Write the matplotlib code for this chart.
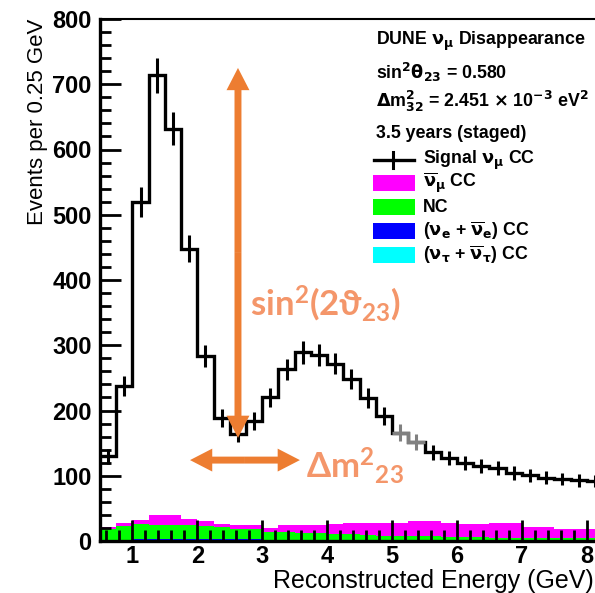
import numpy as np
import matplotlib
matplotlib.use("Agg")
import matplotlib.pyplot as plt
from matplotlib.ticker import MultipleLocator
from matplotlib.patches import Rectangle
from matplotlib.lines import Line2D

# 0.25 GeV bins starting at 0.5 GeV
bin_lo = 0.5
bin_width = 0.25
signal = [130, 237, 520, 714, 632, 448, 283, 189, 164, 184, 220, 263, 289, 285, 272,
          248, 219, 191, 166, 151, 136, 127, 119, 115, 112, 104, 101, 97, 95, 93, 92]
nc = [17, 21, 23, 22, 22, 22, 20, 18, 16, 15, 12, 12, 10, 10, 9, 8, 7, 6, 6, 5, 5,
      4, 4, 4, 4, 4, 4, 4, 3, 3, 3]
numubar = [2, 4, 6, 15, 15, 9, 7, 5, 6, 7, 6, 11, 13, 13, 15, 17, 19, 20, 19, 23, 23,
           22, 20, 20, 22, 22, 17, 17, 15, 15, 15]
nue = [2, 2, 2, 2, 2, 2, 2, 2, 2, 2, 1, 1, 1, 1, 1, 1, 1, 1, 1, 1, 1, 1, 1, 1, 1, 1,
       1, 1, 1, 1, 1]
nutau = [0, 0, 1, 1, 1, 1, 1, 1, 1, 1, 1, 1, 1, 1, 1, 1, 1, 1, 1, 1, 1, 1, 1, 1, 0, 0,
         0, 0, 0, 0, 0]
gray_bins = [18, 19]  # piece of the curve drawn in grey

plt.rcParams['font.family'] = ['Liberation Sans', 'DejaVu Sans']
plt.rcParams['font.weight'] = 'bold'
plt.rcParams['mathtext.fontset'] = 'custom'
plt.rcParams['mathtext.rm'] = 'Lato'
plt.rcParams['mathtext.bf'] = 'Lato:bold'
plt.rcParams['mathtext.it'] = 'Lato:italic'
plt.rcParams['mathtext.fallback'] = 'stixsans'

W, H = 595, 593
def fx(px):
    return px / W
def fy(py):
    return 1 - py / H

fig = plt.figure(figsize=(W / 100, H / 100), dpi=100)
ax = fig.add_axes([fx(100), fy(541), 1 - fx(100), fy(19) - fy(541)])

n = len(signal)
edges = bin_lo + bin_width * np.arange(n + 1)
centers = 0.5 * (edges[1:] + edges[:-1])
sig = np.array(signal, dtype=float)

# stacked backgrounds
bottom = np.zeros(n)
for arr, col in [(nutau, '#00ffff'), (nue, '#0000ff'), (nc, '#00ff00'), (numubar, '#ff00ff')]:
    top = bottom + np.array(arr)
    ax.stairs(top, edges, baseline=bottom, fill=True, color=col, lw=0, zorder=1)
    bottom = top

# signal histogram
ax.stairs(sig, edges, baseline=None, color='k', lw=2.4, zorder=3)
err = np.sqrt(sig)
black = [i for i in range(n) if i not in gray_bins]
ax.errorbar(centers[black], sig[black], yerr=err[black], fmt='none', ecolor='k',
            elinewidth=2.2, zorder=3)
g0, g1 = gray_bins[0], gray_bins[-1] + 1
ax.stairs(sig[g0:g1], edges[g0:g1 + 1], baseline=None, color='#808080', lw=2.4, zorder=4)
ax.errorbar(centers[g0:g1], sig[g0:g1], yerr=err[g0:g1], fmt='none', ecolor='#808080',
            elinewidth=2.2, zorder=4)

ax.set_xlim(0.5, 0.5 + 495 / 64.9)
ax.set_ylim(0, 800)
ax.xaxis.set_major_locator(MultipleLocator(1))
ax.xaxis.set_minor_locator(MultipleLocator(0.2))
ax.yaxis.set_major_locator(MultipleLocator(100))
ax.yaxis.set_minor_locator(MultipleLocator(20))
ax.tick_params(which='major', direction='in', length=15, width=2, labelsize=17,
               top=False, right=False, pad=3)
ax.tick_params(which='minor', direction='in', length=8, width=2, top=False, right=False)
ax.tick_params(axis='y', pad=6)
ax.spines['right'].set_visible(False)
ax.spines['left'].set_linewidth(2.4)
ax.spines['bottom'].set_linewidth(2.4)
ax.spines['top'].set_linewidth(1.5)

fig.text(fx(38), fy(19), 'Events per 0.25 GeV', rotation=90, ha='center', va='top',
         fontsize=16, fontweight='normal')
fig.text(fx(273), fy(581), 'Reconstructed Energy (GeV)', ha='left', va='center',
         fontsize=18, fontweight='normal')

# legend block
lx = fx(376)
leg_kw = dict(fontsize=12.8, fontweight='bold', va='center', ha='left',
              math_fontfamily='dejavusans')
fig.text(lx, fy(41), r'DUNE $\mathrm{\nu_{\mu}}$ Disappearance', **leg_kw)
fig.text(lx, fy(72), r'sin$^{2}\mathrm{\theta}_{23}$ = 0.580', **leg_kw)
fig.text(lx, fy(101), r'$\Delta$m$^{2}_{32}$ = 2.451 $\times$ 10$^{-3}$ eV$^{2}$', **leg_kw)
fig.text(lx, fy(133), '3.5 years (staged)', **leg_kw)

tx = fx(423)
fig.add_artist(Line2D([fx(374), fx(414)], [fy(160), fy(160)], color='k', lw=2.4,
                      transform=fig.transFigure))
fig.add_artist(Line2D([fx(393), fx(393)], [fy(152), fy(168)], color='k', lw=2.2,
                      transform=fig.transFigure))
fig.text(tx, fy(160), r'Signal $\mathrm{\nu_{\mu}}$ CC', **leg_kw)
swatches = [('#ff00ff', 183, r'$\mathrm{\overline{\nu}_{\mu}}$ CC'),
            ('#00ff00', 207, 'NC'),
            ('#0000ff', 231, r'($\mathrm{\nu_{e}}$ + $\mathrm{\overline{\nu}_{e}}$) CC'),
            ('#00ffff', 255, r'($\mathrm{\nu_{\tau}}$ + $\mathrm{\overline{\nu}_{\tau}}$) CC')]
for col, yc, lab in swatches:
    fig.add_artist(Rectangle((fx(373), fy(yc + 8)), fx(42), fy(0) - fy(16), color=col,
                             lw=0, transform=fig.transFigure))
    fig.text(tx, fy(yc), lab, **leg_kw)

# orange annotations
arrow_col = '#ED7D31'
text_col = '#F4966A'
ap = dict(width=5, headwidth=16.5, headlength=16, color=arrow_col, lw=0, shrink=0)
xv, ya, yb = 2.626, 725, 158
ym = 0.5 * (ya + yb)
ax.annotate('', xy=(xv, ya), xytext=(xv, ym), arrowprops=ap, zorder=5)
ax.annotate('', xy=(xv, yb), xytext=(xv, ym), arrowprops=ap, zorder=5)
yh, xa, xb = 124, 1.887, 3.58
xm = 0.5 * (xa + xb)
ax.annotate('', xy=(xa, yh), xytext=(xm, yh), arrowprops=ap, zorder=5)
ax.annotate('', xy=(xb, yh), xytext=(xm, yh), arrowprops=ap, zorder=5)
ax.text(2.811, 345, r'$\mathbf{sin^{2}(2\vartheta_{23})}$', color=text_col, fontsize=25,
        ha='left', va='baseline', math_fontfamily='custom', zorder=5)
ax.text(3.674, 96, r'$\mathbf{\Delta m^{2}{}_{23}}$', color=text_col, fontsize=25,
        ha='left', va='baseline', math_fontfamily='custom', zorder=5)

fig.savefig('out.png', dpi=100)
